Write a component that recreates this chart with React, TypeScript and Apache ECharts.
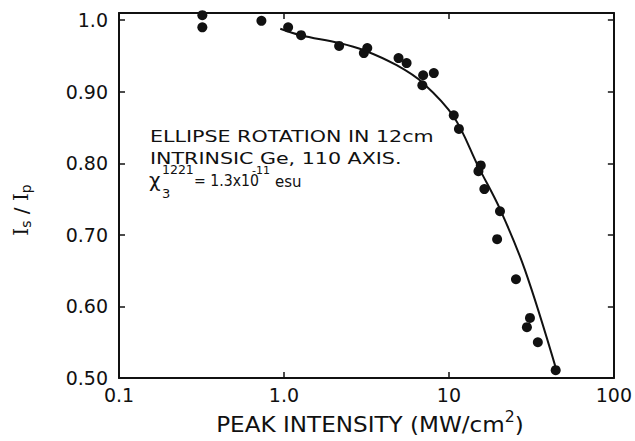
import React, { useEffect, useRef } from "react";
import * as echarts from "echarts";

// Measured ellipse-rotation ratio Is/Ip against peak intensity (MW/cm²)
const intensity = [
  0.32, 0.32, 0.73, 1.06, 1.27, 2.16, 3.05, 3.2, 4.95, 5.54, 6.9, 6.98, 8.1,
  10.7, 11.5, 15.6, 15.1, 16.4, 20.4, 19.6, 25.5, 31.0, 29.7, 34.6, 44.4,
];
const ratio = [
  1.007, 0.99, 0.999, 0.99, 0.979, 0.964, 0.954, 0.961, 0.947, 0.94, 0.909,
  0.923, 0.926, 0.867, 0.848, 0.797, 0.789, 0.764, 0.733, 0.694, 0.638, 0.584,
  0.571, 0.55, 0.511,
];

// Calculated curve
const fitIntensity = [0.95, 1.26, 2.16, 3.05, 4.82, 6.98, 10.7, 15.1, 20.5, 28.9, 45.0];
const fitRatio = [0.988, 0.979, 0.968, 0.958, 0.937, 0.912, 0.865, 0.795, 0.735, 0.651, 0.51];

// Tick labels
const xTickLabels = ["0.1", "1.0", "10", "100"];
const yTickLabels = ["0.50", "0.60", "0.70", "0.80", "0.90", "1.0"];

const INK = "#111";
const SANS = "DejaVu Sans";

export default function App() {
  const ref = useRef<HTMLDivElement>(null);

  useEffect(() => {
    if (!ref.current) return;
    const chart = echarts.init(ref.current, null, { renderer: "svg" });

    const frameLine = { show: true, lineStyle: { color: INK, width: 2 } };
    const innerTick = { show: true, inside: true, length: 6, lineStyle: { color: INK, width: 1.5 } };

    const xCommon = {
      type: "log" as const,
      logBase: 10,
      min: 0.1,
      max: 100,
      axisLine: frameLine,
      axisTick: innerTick,
      splitLine: { show: false },
      minorTick: { show: false },
    };
    const yCommon = {
      type: "value" as const,
      min: 0.5,
      max: 1.01,
      interval: 0.1,
      axisLine: frameLine,
      axisTick: innerTick,
      splitLine: { show: false },
    };

    chart.setOption({
      animation: false,
      backgroundColor: "#fff",
      grid: { left: 119, right: 15, top: 13, bottom: 63, containLabel: false },
      xAxis: [
        {
          ...xCommon,
          position: "bottom",
          axisLabel: {
            color: INK,
            fontFamily: SANS,
            fontSize: 19,
            margin: 7,
            formatter: (v: number) => xTickLabels[Math.round(Math.log10(v)) + 1] ?? "",
          },
        },
        { ...xCommon, position: "top", axisLabel: { show: false } },
      ],
      yAxis: [
        {
          ...yCommon,
          position: "left",
          axisLabel: {
            color: INK,
            fontFamily: SANS,
            fontSize: 19,
            margin: 11,
            showMaxLabel: false,
            formatter: (v: number) => {
              const i = Math.round((v - 0.5) / 0.1);
              return Math.abs(v - (0.5 + i * 0.1)) < 1e-6 ? yTickLabels[i] ?? "" : "";
            },
          },
        },
        { ...yCommon, position: "right", axisLabel: { show: false } },
      ],
      series: [
        {
          type: "line",
          data: fitIntensity.map((x, i) => [x, fitRatio[i]]),
          smooth: 0.35,
          symbol: "none",
          lineStyle: { color: INK, width: 2 },
          z: 2,
        },
        {
          type: "scatter",
          data: intensity.map((x, i) => [x, ratio[i]]),
          symbol: "circle",
          symbolSize: 10,
          itemStyle: { color: INK, opacity: 1 },
          clip: false,
          z: 3,
        },
      ],
      graphic: [
        {
          type: "text",
          x: 150,
          y: 136,
          scaleX: 1.25,
          style: { text: "ELLIPSE ROTATION IN 12cm", fontFamily: SANS, fontSize: 16.5, fill: INK, verticalAlign: "middle" },
        },
        {
          type: "text",
          x: 150,
          y: 158,
          scaleX: 1.25,
          style: { text: "INTRINSIC Ge, 110 AXIS.", fontFamily: SANS, fontSize: 16.5, fill: INK, verticalAlign: "middle" },
        },
        {
          type: "group",
          children: [
            { type: "text", x: 149, y: 180, style: { text: "χ", fontFamily: SANS, fontSize: 20, fill: INK, verticalAlign: "middle" } },
            { type: "text", x: 162, y: 169, style: { text: "1221", fontFamily: SANS, fontSize: 12.5, fill: INK, verticalAlign: "middle" } },
            { type: "text", x: 162, y: 193, style: { text: "3", fontFamily: SANS, fontSize: 13, fill: INK, verticalAlign: "middle" } },
            { type: "text", x: 194, y: 181, scaleX: 0.88, style: { text: "= 1.3x10", fontFamily: SANS, fontSize: 16, fill: INK, verticalAlign: "middle" } },
            { type: "text", x: 252, y: 170, style: { text: "-11", fontFamily: SANS, fontSize: 11, fill: INK, verticalAlign: "middle" } },
            { type: "text", x: 275, y: 182, style: { text: "esu", fontFamily: SANS, fontSize: 15, fill: INK, verticalAlign: "middle" } },
          ],
        },
        {
          type: "text",
          x: 370,
          y: 424,
          scaleX: 1.05,
          style: {
            text: "{t|PEAK INTENSITY (MW/cm}{s|2}{t|)}",
            align: "center",
            verticalAlign: "middle",
            rich: {
              t: { fontFamily: SANS, fontSize: 22, fill: INK, color: INK },
              s: { fontFamily: SANS, fontSize: 15, fill: INK, color: INK, padding: [0, 0, 14, 0] },
            },
          },
        },
        {
          type: "text",
          x: 21,
          y: 210,
          rotation: Math.PI / 2,
          style: {
            text: "{i|I}{b|s}{t| / }{i|I}{b|p}",
            align: "center",
            verticalAlign: "middle",
            rich: {
              i: { fontFamily: "DejaVu Serif", fontSize: 20, fill: INK, color: INK },
              t: { fontFamily: SANS, fontSize: 20, fill: INK, color: INK },
              b: { fontFamily: SANS, fontSize: 14, fill: INK, color: INK, padding: [9, 0, 0, 0] },
            },
          },
        },
      ],
    });

    return () => chart.dispose();
  }, []);

  return (
    <div
      ref={ref}
      style={{ position: "fixed", left: 0, top: 0, width: 635, height: 441, background: "#fff" }}
    />
  );
}
